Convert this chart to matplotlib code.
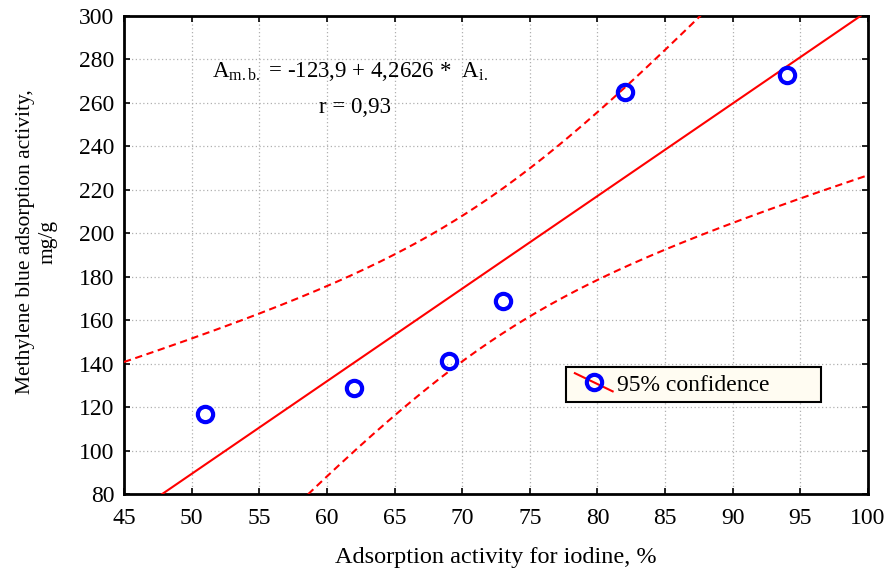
import numpy as np
import matplotlib
matplotlib.use("Agg")
import matplotlib.pyplot as plt
from matplotlib.lines import Line2D
from matplotlib.patches import Rectangle
from matplotlib.legend_handler import HandlerBase

plt.rcParams['font.family'] = ['Liberation Serif', 'DejaVu Serif']
plt.rcParams['mathtext.fontset'] = 'custom'
plt.rcParams['mathtext.rm'] = 'Liberation Serif'
plt.rcParams['mathtext.it'] = 'Liberation Serif'

iodine = np.array([51, 62, 69, 73, 82, 94])
mb = np.array([117, 129, 141, 169, 265, 273])
x_ticks = [45, 50, 55, 60, 65, 70, 75, 80, 85, 90, 95, 100]
y_ticks = [80, 100, 120, 140, 160, 180, 200, 220, 240, 260, 280, 300]

# linear regression with 95% confidence band
n = len(iodine)
slope, intercept = np.polyfit(iodine, mb, 1)
resid = mb - (intercept + slope * iodine)
s = np.sqrt(np.sum(resid ** 2) / (n - 2))
xm = iodine.mean()
sxx = np.sum((iodine - xm) ** 2)
t = 2.776  # t(0.975, 4)
xs = np.linspace(45, 100, 300)
fit = intercept + slope * xs
hw = t * s * np.sqrt(1 / n + (xs - xm) ** 2 / sxx)


class DiagHandler(HandlerBase):
    def create_artists(self, legend, orig, xdescent, ydescent, width, height, fontsize, trans):
        x0, x1 = -xdescent, width - xdescent
        y0, y1 = -ydescent, height - ydescent
        ln = Line2D([x0, x1], [y1 + 0.05 * height, y0 - 0.05 * height], color='red', lw=1.5,
                    transform=trans)
        mk = Line2D([(x0 + x1) / 2], [(y0 + y1) / 2], ls='none', marker='o', ms=11,
                    mfc='none', mec='blue', mew=3, transform=trans)
        return [ln, mk]


fig = plt.figure(figsize=(8.89, 5.68), dpi=100)
ax = fig.add_axes([0.1395, 0.1303, 0.8369, 0.8415])

dash = (0, (3.5, 2.2))
ax.plot(xs, fit, color='red', lw=1.5, zorder=3)
ax.plot(xs, fit + hw, color='red', lw=1.5, ls=dash, zorder=3)
ax.plot(xs, fit - hw, color='red', lw=1.5, ls=dash, zorder=3)
ax.plot(iodine, mb, ls='none', marker='o', ms=11, mfc='none', mec='blue', mew=3, zorder=4)

ax.set_xlim(45, 100)
ax.set_ylim(80, 300)
ax.set_xticks(x_ticks)
ax.set_yticks(y_ticks)
ax.tick_params(direction='in', length=4, width=1.2, top=True, right=True, labelsize=17)
ax.tick_params(axis='x', pad=10)
ax.tick_params(axis='y', pad=7)
ax.grid(True, ls=(0, (1, 2)), color='#b0b0b0', lw=0.9)
for sp in ax.spines.values():
    sp.set_linewidth(2)

ax.set_xlabel('Adsorption activity for iodine, %', fontsize=17.5, labelpad=13)
ax.set_ylabel('Methylene blue adsorption activity,\nmg/g', fontsize=15.5, linespacing=1.25)
ax.yaxis.set_label_coords(-0.09, 0.527)

ax.text(0.118, 0.872, r'$\mathrm{A_{m.b.}}$ = -123,9 + 4,2626 *  $\mathrm{A_{i.}}$',
        transform=ax.transAxes, fontsize=16.5, va='baseline', ha='left')
ax.text(0.310, 0.797, 'r = 0,93', transform=ax.transAxes, fontsize=16.5,
        va='baseline', ha='center')

# legend box
ax.add_patch(Rectangle((0.594, 0.192), 0.343, 0.073, transform=ax.transAxes,
                       facecolor='#fffcf2', edgecolor='black', lw=1.5, zorder=5))
h = Line2D([], [], color='red')
leg = ax.legend([h], ['95% confidence'], loc='center left', bbox_to_anchor=(0.606, 0.2285),
                fontsize=17, frameon=False, handlelength=1.6,
                handletextpad=0.2, borderpad=0.0, borderaxespad=0,
                handler_map={Line2D: DiagHandler()})
leg.set_zorder(6)

fig.savefig('out.png', dpi=100)
